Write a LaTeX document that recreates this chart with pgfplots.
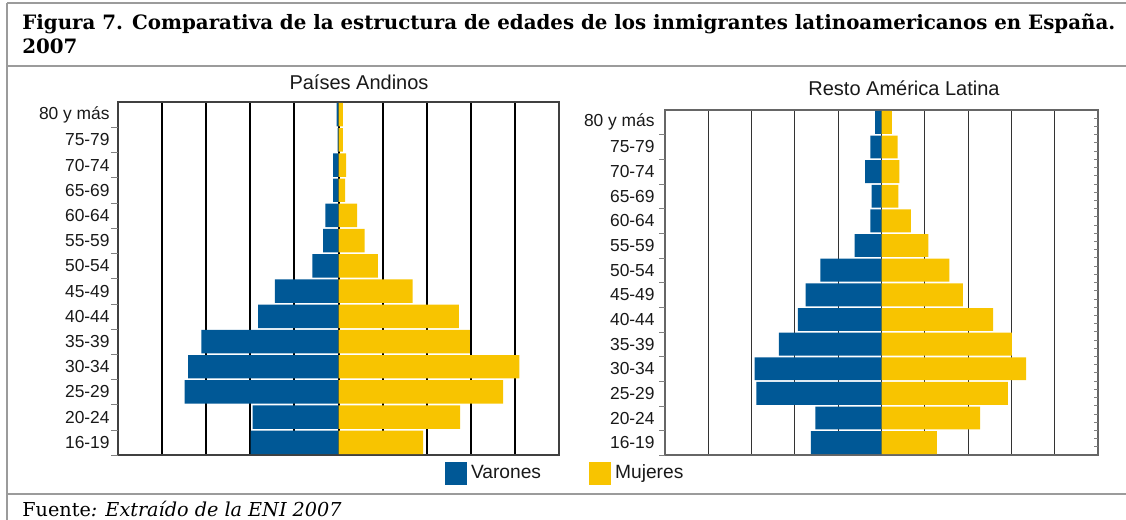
\documentclass[border=0pt]{standalone}
\usepackage{pgfplots}
\usepackage{pgfplotstable}
\pgfplotsset{compat=1.18}
\usepackage{fontspec}
\setmainfont{DejaVu Serif}
\newfontfamily\sansf{Liberation Sans}
\definecolor{blu}{RGB}{0,88,150}
\definecolor{yel}{RGB}{248,196,0}
\definecolor{frame}{RGB}{155,155,155}

% y: 0 = 16-19 ... 13 = 80 y mas ; v = varones, m = mujeres (grid units)
\pgfplotstableread{
y v m
0 1.99 1.92
1 1.95 2.76
2 3.49 3.73
3 3.41 4.10
4 3.11 2.98
5 1.82 2.73
6 1.44 1.68
7 0.59 0.89
8 0.35 0.59
9 0.30 0.42
10 0.12 0.15
11 0.12 0.17
12 0.02 0.10
13 0.04 0.10
}\andinos

\pgfplotstableread{
y v m
0 1.63 1.28
1 1.53 2.28
2 2.89 2.92
3 2.93 3.34
4 2.37 3.01
5 1.93 2.58
6 1.75 1.88
7 1.41 1.57
8 0.62 1.08
9 0.26 0.68
10 0.23 0.39
11 0.38 0.41
12 0.26 0.37
13 0.15 0.24
}\resto

\pgfplotsset{
  pyr/.style={
    scale only axis, anchor=south west,
    xmin=-5, xmax=5, ymin=-0.5, ymax=13.5,
    enlargelimits=false,
    major tick length=0pt,
    xtick={-4,...,4}, xticklabels={},
    xmajorgrids,
    ytick={0,...,13},
    yticklabels={16-19,20-24,25-29,30-34,35-39,40-44,45-49,50-54,55-59,60-64,65-69,70-74,75-79,80 y más},
    y tick label style={font=\sansf\fontsize{8.7}{9}\selectfont, text=black!90, inner sep=0pt, xshift=-4pt},
    ytick pos=left,
    extra y ticks={-0.5,0.5,...,12.5},
    extra y tick labels={},
    extra y tick style={major tick length=3.5pt, tick align=outside},
  },
  vbar/.style={xbar, bar shift=0pt, bar width=0.93, fill=blu, draw=none,
    legend image code/.code={\fill[blu] (0pt,-5.6pt) rectangle (11pt,5.6pt);}},
  mbar/.style={xbar, bar shift=0pt, bar width=0.93, fill=yel, draw=none,
    legend image code/.code={\fill[yel] (0pt,-5.6pt) rectangle (11pt,5.6pt);}},
}

\begin{document}
\begin{tikzpicture}
\useasboundingbox (0pt,0pt) rectangle (563pt,260pt);
% frame lines
\draw[frame, line width=1pt] (3.5pt,0pt) -- (3.5pt,258.5pt);
\draw[frame, line width=1pt] (3.5pt,258.5pt) -- (563pt,258.5pt);
\draw[frame, line width=1pt] (3.5pt,227pt) -- (563pt,227pt);
\draw[frame, line width=1pt] (3.5pt,13pt) -- (563pt,13pt);

% title
\node[anchor=base west, inner sep=0pt, font=\bfseries\fontsize{9.9}{11}\selectfont] at (11pt,245pt)
  {Figura 7. Comparativa de la estructura de edades de los inmigrantes latinoamericanos en España.};
\node[anchor=base west, inner sep=0pt, font=\bfseries\fontsize{9.9}{11}\selectfont] at (11pt,233pt) {2007};
% source
\node[anchor=base west, inner sep=0pt, font=\fontsize{9.6}{11}\selectfont] at (11pt,1.6pt)
  {Fuente\textit{: Extraído de la ENI 2007}};

% left pyramid
\begin{axis}[pyr, at={(59pt,32.5pt)}, width=220.5pt, height=176.5pt,
  axis line style={black!75, line width=0.6pt},
  major x grid style={black, line width=1pt},
  legend columns=2,
  legend style={at={(axis description cs:0.7415,-0.017)}, anchor=north west, draw=none, fill=none,
    inner sep=0pt, outer sep=0pt, font=\sansf\fontsize{9.6}{10}\selectfont, text=black!90,
    /tikz/every even column/.append style={column sep=22pt}},
]
\addplot[vbar] table[x expr=-\thisrow{v}, y=y] {\andinos};
\addlegendentry{Varones}
\addplot[mbar] table[x=m, y=y] {\andinos};
\addlegendentry{Mujeres}
\end{axis}
\node[font=\sansf\fontsize{10}{11}\selectfont, text=black!90] at (179.5pt,219pt) {Países Andinos};

% right pyramid
\begin{axis}[pyr, at={(332.5pt,32.5pt)}, width=216.5pt, height=172.5pt,
  axis line style={black!60, line width=0.8pt},
  major x grid style={black!80, line width=0.55pt},
  extra y tick style={major tick length=3pt, tick align=outside},
  y tick label style={xshift=-1pt},
]
\addplot[vbar] table[x expr=-\thisrow{v}, y=y] {\resto};
\addplot[mbar] table[x=m, y=y] {\resto};
\end{axis}
\node[font=\sansf\fontsize{10}{11}\selectfont, text=black!90] at (452pt,216pt) {Resto América Latina};
\foreach \k in {1,...,41} \draw[black!50, line width=0.4pt] ({549pt},{32.5pt+\k*4.107pt}) -- ++(-1.8pt,0pt);
\end{tikzpicture}
\end{document}
